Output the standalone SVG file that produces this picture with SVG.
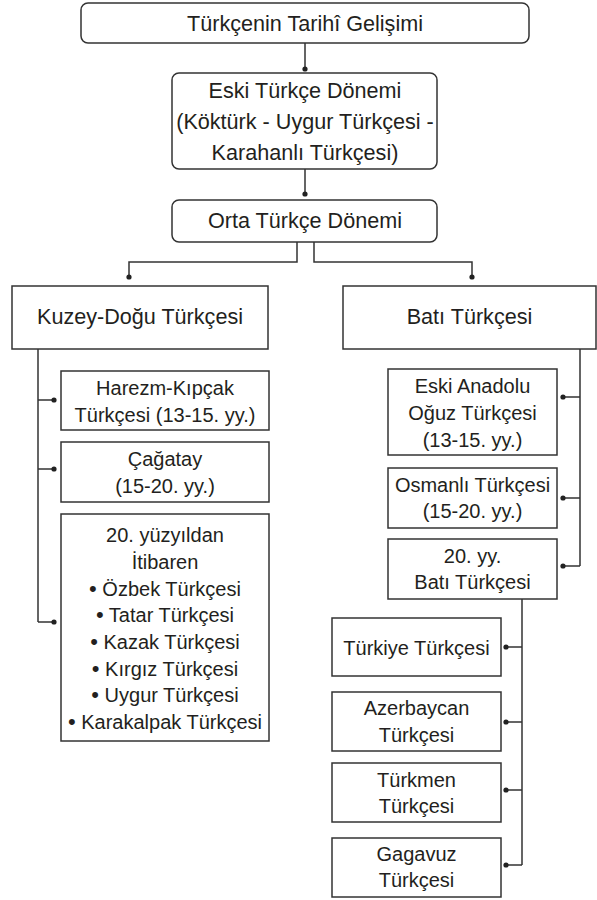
<svg xmlns="http://www.w3.org/2000/svg" width="597" height="900" viewBox="0 0 597 900">
<style>
.box{fill:#fff;stroke:#333;stroke-width:1.5}
.ln{fill:none;stroke:#333;stroke-width:1.5}
.dot{fill:#222}
text{font-family:"Liberation Sans",Arial,sans-serif;fill:#231f20;text-anchor:middle}
.h{font-size:21.6px}
.s{font-size:20px}
.b{font-size:22px}
</style>
<rect width="597" height="900" fill="#fff"/>
<g id="connectors">
<path class="ln" d="M305 43V69M305 169V194M297 242V262H129V277M314 242V262H472V277"/>
<path class="ln" d="M38 349V622M38 400H54M38 469H54M38 622H54"/>
<path class="ln" d="M580 349V566M580 397H563M580 498H563M580 566H563"/>
<path class="ln" d="M522 599V865M522 647H506M522 722H506M522 790H506M522 865H506"/>
<g class="dot">
<circle cx="305" cy="69" r="2.6"/><circle cx="305" cy="194" r="2.6"/>
<circle cx="129" cy="277" r="2.6"/><circle cx="472" cy="277" r="2.6"/>
<circle cx="54" cy="400" r="2.6"/><circle cx="54" cy="469" r="2.6"/><circle cx="54" cy="622" r="2.6"/>
<circle cx="563" cy="397" r="2.6"/><circle cx="563" cy="498" r="2.6"/><circle cx="563" cy="566" r="2.6"/>
<circle cx="506" cy="647" r="2.6"/><circle cx="506" cy="722" r="2.6"/><circle cx="506" cy="790" r="2.6"/><circle cx="506" cy="865" r="2.6"/>
</g>
</g>
<g id="root">
<rect class="box" x="81" y="3" width="448" height="40" rx="7"/>
<text class="h" x="305" y="31">Türkçenin Tarihî Gelişimi</text>
</g>
<g id="eski">
<rect class="box" x="172" y="73" width="265" height="96" rx="7"/>
<text class="h" x="305" y="98">Eski Türkçe Dönemi</text>
<text class="h" x="305" y="129">(Köktürk - Uygur Türkçesi -</text>
<text class="h" x="305" y="160">Karahanlı Türkçesi)</text>
</g>
<g id="orta">
<rect class="box" x="172" y="200" width="265" height="42" rx="7"/>
<text class="h" x="305" y="228">Orta Türkçe Dönemi</text>
</g>
<g id="kuzey">
<rect class="box" x="12" y="286" width="256" height="63"/>
<text class="h" x="140" y="324">Kuzey-Doğu Türkçesi</text>
</g>
<g id="bati">
<rect class="box" x="343" y="286" width="253" height="63"/>
<text class="h" x="469.5" y="324">Batı Türkçesi</text>
</g>
<g id="harezm">
<rect class="box" x="61" y="371" width="208" height="59"/>
<text class="s" x="165" y="395">Harezm-Kıpçak</text>
<text class="s" x="165" y="422">Türkçesi (13-15. yy.)</text>
</g>
<g id="cagatay">
<rect class="box" x="61" y="442" width="208" height="60"/>
<text class="s" x="165" y="466">Çağatay</text>
<text class="s" x="165" y="493">(15-20. yy.)</text>
</g>
<g id="yuzyil20">
<rect class="box" x="61" y="514" width="208" height="227"/>
<text class="s" x="165" y="542">20. yüzyıldan</text>
<text class="s" x="165" y="568.5">İtibaren</text>
<text class="s" x="165" y="595.5"><tspan class="b">•</tspan> Özbek Türkçesi</text>
<text class="s" x="165" y="622"><tspan class="b">•</tspan> Tatar Türkçesi</text>
<text class="s" x="165" y="649"><tspan class="b">•</tspan> Kazak Türkçesi</text>
<text class="s" x="165" y="675.5"><tspan class="b">•</tspan> Kırgız Türkçesi</text>
<text class="s" x="165" y="702"><tspan class="b">•</tspan> Uygur Türkçesi</text>
<text class="s" x="165" y="728.5"><tspan class="b">•</tspan> Karakalpak Türkçesi</text>
</g>
<g id="eskianadolu">
<rect class="box" x="388" y="369" width="169" height="86"/>
<text class="s" x="472.5" y="393">Eski Anadolu</text>
<text class="s" x="472.5" y="420">Oğuz Türkçesi</text>
<text class="s" x="472.5" y="447">(13-15. yy.)</text>
</g>
<g id="osmanli">
<rect class="box" x="388" y="468" width="169" height="60"/>
<text class="s" x="472.5" y="492">Osmanlı Türkçesi</text>
<text class="s" x="472.5" y="518">(15-20. yy.)</text>
</g>
<g id="bati20">
<rect class="box" x="388" y="539" width="169" height="60"/>
<text class="s" x="472.5" y="563">20. yy.</text>
<text class="s" x="472.5" y="589">Batı Türkçesi</text>
</g>
<g id="turkiye">
<rect class="box" x="332" y="618" width="169" height="58"/>
<text class="s" x="416.5" y="655">Türkiye Türkçesi</text>
</g>
<g id="azerbaycan">
<rect class="box" x="332" y="692" width="169" height="59"/>
<text class="s" x="416.5" y="715">Azerbaycan</text>
<text class="s" x="416.5" y="742">Türkçesi</text>
</g>
<g id="turkmen">
<rect class="box" x="332" y="763" width="169" height="59"/>
<text class="s" x="416.5" y="787">Türkmen</text>
<text class="s" x="416.5" y="813">Türkçesi</text>
</g>
<g id="gagavuz">
<rect class="box" x="332" y="838" width="169" height="59"/>
<text class="s" x="416.5" y="861">Gagavuz</text>
<text class="s" x="416.5" y="887">Türkçesi</text>
</g>
</svg>
